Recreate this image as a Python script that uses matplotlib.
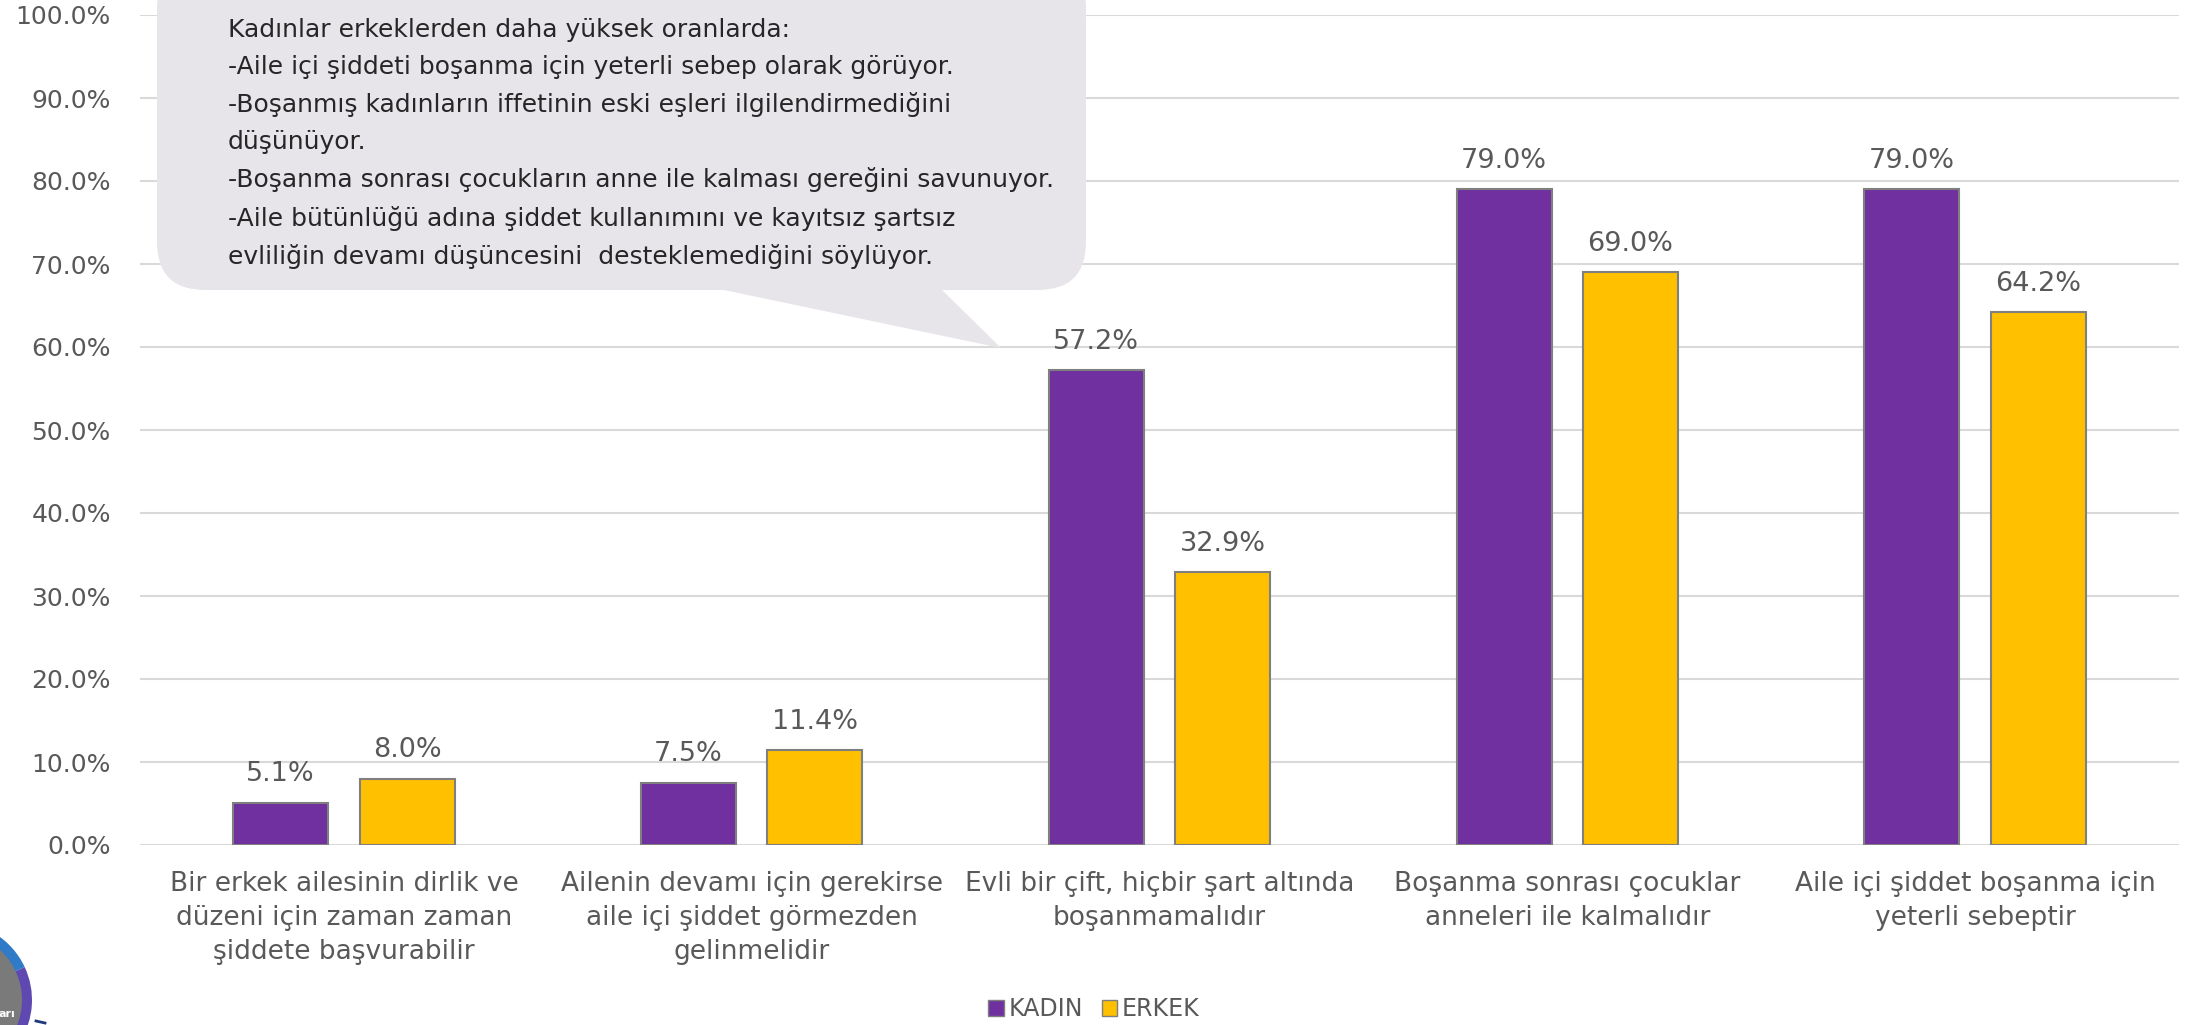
import matplotlib.pyplot as plt
from matplotlib.patches import FancyBboxPatch, Polygon, Circle, Wedge, Patch
from matplotlib.transforms import IdentityTransform

# --- data ---
categories = [
    "Bir erkek ailesinin dirlik ve\ndüzeni için zaman zaman\nşiddete başvurabilir",
    "Ailenin devamı için gerekirse\naile içi şiddet görmezden\ngelinmelidir",
    "Evli bir çift, hiçbir şart altında\nboşanmamalıdır",
    "Boşanma sonrası çocuklar\nanneleri ile kalmalıdır",
    "Aile içi şiddet boşanma için\nyeterli sebeptir",
]
kadin = [0.051, 0.075, 0.572, 0.790, 0.790]
erkek = [0.080, 0.114, 0.329, 0.690, 0.642]
series_names = ["KADIN", "ERKEK"]
yticks = [0.0, 0.1, 0.2, 0.3, 0.4, 0.5, 0.6, 0.7, 0.8, 0.9, 1.0]

callout_text = ("Kadınlar erkeklerden daha yüksek oranlarda:\n"
                "-Aile içi şiddeti boşanma için yeterli sebep olarak görüyor.\n"
                "-Boşanmış kadınların iffetinin eski eşleri ilgilendirmediğini\n"
                "düşünüyor.\n"
                "-Boşanma sonrası çocukların anne ile kalması gereğini savunuyor.\n"
                "-Aile bütünlüğü adına şiddet kullanımını ve kayıtsız şartsız\n"
                "evliliğin devamı düşüncesini  desteklemediğini söylüyor.")

PURPLE = "#7030A0"
YELLOW = "#FFC000"
EDGE = "#7F7F7F"
GRID = "#D9D9D9"
TXT = "#595959"

W, H = 2197, 1025
fig = plt.figure(figsize=(W / 100, H / 100), dpi=100)
ax = fig.add_axes([140 / W, 1 - 845 / H, (2179 - 140) / W, (845 - 15) / H])

x = list(range(len(categories)))
bw = 0.233
off = 0.155
b1 = ax.bar([i - off for i in x], kadin, bw, color=PURPLE, edgecolor=EDGE, linewidth=1.5, zorder=3)
b2 = ax.bar([i + off for i in x], erkek, bw, color=YELLOW, edgecolor=EDGE, linewidth=1.5, zorder=3)

for bars, vals in ((b1, kadin), (b2, erkek)):
    for b, v in zip(bars, vals):
        ax.annotate(f"{v * 100:.1f}%", (b.get_x() + b.get_width() / 2, v),
                    xytext=(0, 11), textcoords="offset points",
                    ha="center", va="bottom", fontsize=19.5, color=TXT)

ax.set_xlim(-0.5, len(categories) - 0.5)
ax.set_ylim(0, 1.0)
ax.set_yticks(yticks)
ax.set_yticklabels([f"{t * 100:.1f}%" for t in yticks], fontsize=18, color=TXT)
ax.set_xticks(x)
ax.set_xticklabels(categories, fontsize=19, color=TXT, linespacing=1.38)
ax.tick_params(axis="both", length=0)
ax.tick_params(axis="x", pad=19)
ax.tick_params(axis="y", pad=21)
ax.yaxis.grid(True, color=GRID, linewidth=1.5, zorder=0)
ax.set_axisbelow(True)
for s in ax.spines.values():
    s.set_visible(False)

# legend
handles = [Patch(facecolor=PURPLE, edgecolor=EDGE), Patch(facecolor=YELLOW, edgecolor=EDGE)]
fig.legend(handles, series_names, loc="center", bbox_to_anchor=(1094 / W, 1 - 1009 / H),
           ncol=2, frameon=False, fontsize=17, labelcolor=TXT,
           handlelength=0.65, handleheight=0.65, handletextpad=0.2, columnspacing=0.8)

# callout bubble (figure pixel coords -> fraction)
def fx(px):
    return px / W

def fy(py):
    return 1 - py / H

bubble_col = "#E7E4EA"
box = FancyBboxPatch((fx(157), fy(290)), fx(1086) - fx(157), fy(-40) - fy(290),
                     boxstyle="round,pad=0,rounding_size=0.022",
                     transform=fig.transFigure, facecolor=bubble_col, edgecolor="none",
                     mutation_aspect=W / H, zorder=5)
fig.add_artist(box)
tail = Polygon([(fx(700), fy(285)), (fx(1001), fy(348)), (fx(937), fy(285))],
               closed=True, transform=fig.transFigure, facecolor=bubble_col,
               edgecolor="none", zorder=5)
fig.add_artist(tail)
fig.text(fx(228), fy(18), callout_text, ha="left", va="top", fontsize=18,
         color="#262626", linespacing=1.67, zorder=6)

# logo fragment bottom-left (pixel coords, origin bottom-left)
pix = IdentityTransform()
lc = (-46, H - 1000)
fig.add_artist(Wedge(lc, 78, 25, 90, transform=pix, facecolor="#2F7BC8", edgecolor="none", zorder=5))
fig.add_artist(Wedge(lc, 78, -90, 25, transform=pix, facecolor="#5F48B0", edgecolor="none", zorder=5))
fig.add_artist(Circle(lc, 68, transform=pix, facecolor="#7A7A7A", edgecolor="none", zorder=5))
fig.text(fx(7), fy(1014), "arı", color="white", fontsize=8, weight="bold",
         ha="center", va="center", zorder=6)
fig.add_artist(plt.Line2D([fx(36), fx(45)], [fy(1021), fy(1023)], transform=fig.transFigure,
                          color="#1F3A7A", linewidth=2, zorder=6))

fig.savefig("out.png", dpi=100)
